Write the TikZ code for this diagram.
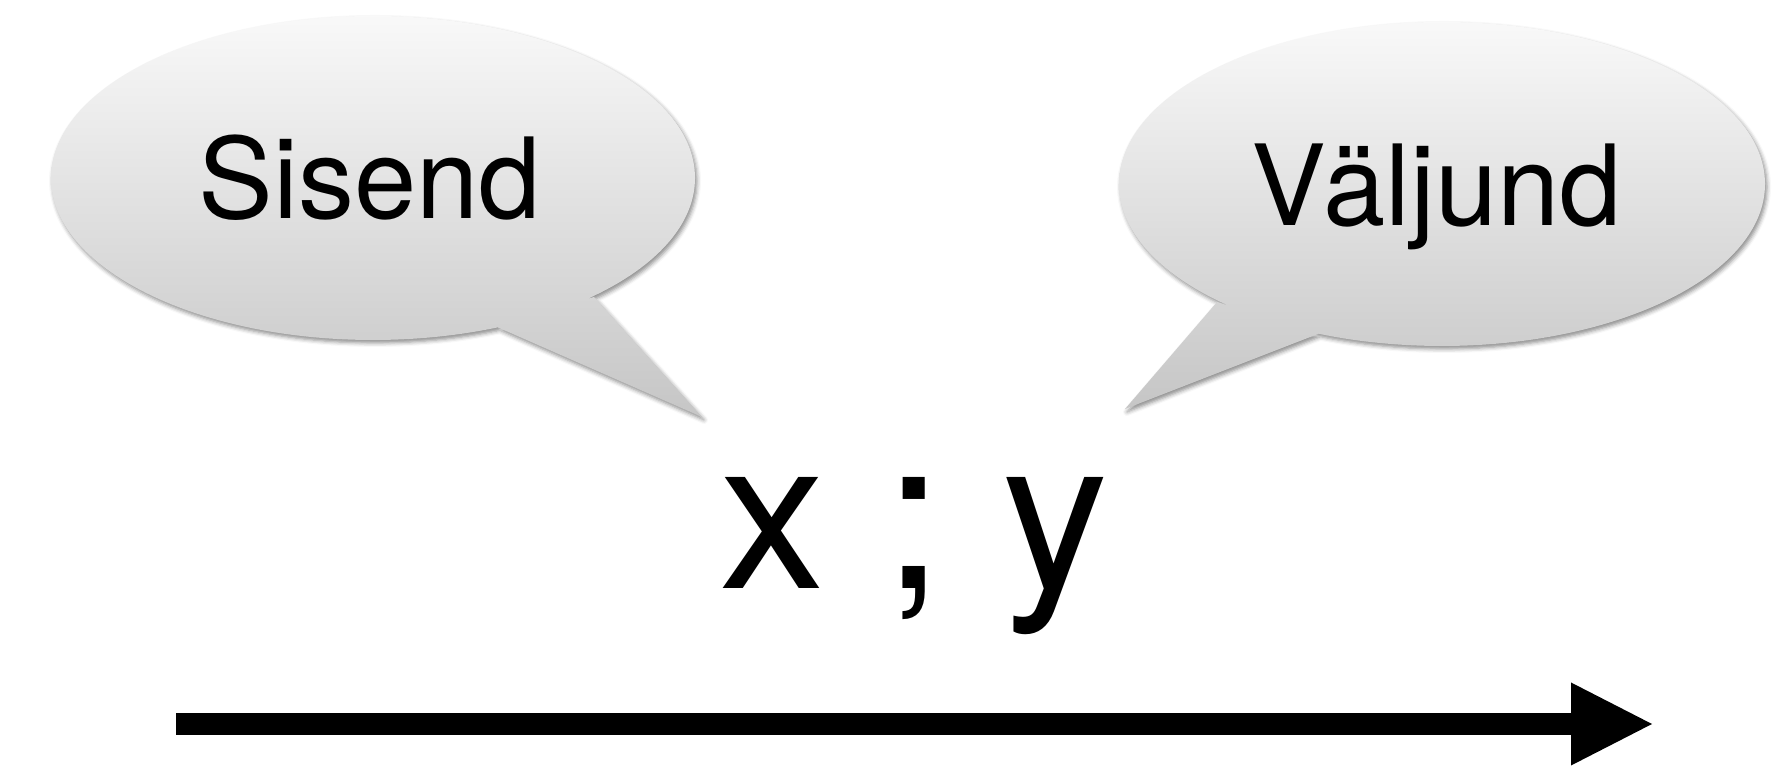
\documentclass[tikz,border=0pt]{standalone}
\usepackage{fontspec}
\setmainfont{TeX Gyre Heros}
\usetikzlibrary{shadows.blur}
\tikzset{
  bubble/.style={top color=gray!5, bottom color=gray!45, draw=none,
    blur shadow={shadow xshift=2pt, shadow yshift=-3pt, shadow blur radius=4pt, shadow opacity=45}},
  bubbletext/.style={font=\fontsize{112}{130}\selectfont, inner sep=0pt, anchor=base},
  bigtext/.style={font=\fontsize{212}{240}\selectfont, inner sep=0pt, anchor=base},
  flow/.style={line width=22pt},
  flowhead/.style={fill=black}
}
\begin{document}
\begin{tikzpicture}[x=1pt,y=1pt]
\useasboundingbox (0,0) rectangle (1782,767);
% left bubble
\shade[bubble] (373,589) ellipse [x radius=322, y radius=162]
  (497,440) -- (702,350) -- (594,470) -- cycle;
% right bubble
\shade[bubble] (1442,583) ellipse [x radius=323, y radius=162]
  (1318,433) -- (1217,465) -- (1125,358) -- cycle;
\node[bubbletext] (sisend) at (370,548) {Sisend};
\node[bubbletext] (valjund) at (1437,541) {Väljund};
\node[bigtext] (xy) at (914,178) {x ; y};
\coordinate (a1) at (176,43);
\coordinate (hb) at (1572,43);
\coordinate (hbt) at (1571,84.5);
\coordinate (hbb) at (1571,1.5);
\coordinate (a2) at (1652,43);
\draw[flow] (a1) -- (hb);
\fill[flowhead] (hbt) -- (a2) -- (hbb) -- cycle;
\end{tikzpicture}
\end{document}
